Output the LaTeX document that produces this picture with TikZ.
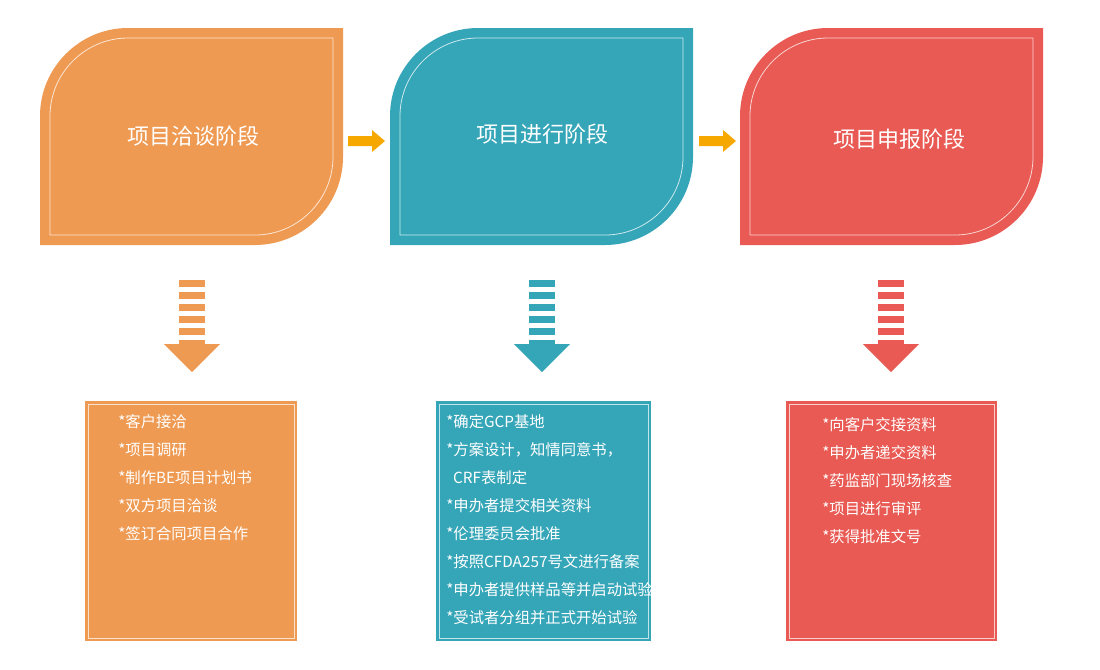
\documentclass[tikz,border=0pt]{standalone}
\usepackage{fontspec}
\setmainfont{Noto Sans CJK SC}
\definecolor{cor}{HTML}{EF9A52}
\definecolor{cte}{HTML}{35A5B8}
\definecolor{cre}{HTML}{E85A53}
\definecolor{cyl}{HTML}{F7A800}
\newcommand\leafpath[5]{(#1,#4) -- (#1,#2+#5) .. controls (#1,#2+0.45*#5) and (#1+0.45*#5,#2) .. (#1+#5,#2) -- (#3,#2) -- (#3,#4-#5) .. controls (#3,#4-0.45*#5) and (#3-0.45*#5,#4) .. (#3-#5,#4) -- cycle}
\newcommand\leaf[5]{%
  \fill[#5] \leafpath{#1}{#2}{#3}{#4}{88};
  \draw[white!75!#5, line width=0.6pt] \leafpath{#1+10}{#2+10}{#3-10}{#4-10}{78};}
\newcommand\dasharrow[3]{%
  \foreach \yy in {280,292,304,316,328}{\fill[#3] (#1-13,\yy) rectangle (#1+13,\yy+7);}
  \fill[#3] (#1-13,340) rectangle (#1+13,346);
  \fill[#3] (#1-28,344) -- (#1+28,344) -- (#1,372) -- cycle;}
\newcommand\yarrow[2]{\fill[cyl] (#1,136) -- (#1+24,136) -- (#1+24,130) -- (#1+37,141) -- (#1+24,152) -- (#1+24,146) -- (#1,146) -- cycle;}
\tikzset{title/.style={text=white,font=\fontsize{16.5pt}{18pt}\selectfont},
  item/.style={text=white,font=\fontsize{11.5pt}{21pt}\selectfont,align=left,anchor=north west,inner sep=0pt},
  box/.style={fill=#1}}
\begin{document}
\begin{tikzpicture}[x=0.75pt,y=-0.75pt]
\useasboundingbox (0,0) rectangle (1100,669);
\leaf{40}{28}{343}{245}{cor}
\leaf{390}{28}{693}{245}{cte}
\leaf{740}{28}{1043}{245}{cre}
\node[title] (t1) at (193,136) {项目洽谈阶段};
\node[title] (t2) at (542,134) {项目进行阶段};
\node[title] (t3) at (899,139) {项目申报阶段};
\yarrow{348}{cor}
\yarrow{699}{cte}
\dasharrow{192}{0}{cor}
\dasharrow{542}{0}{cte}
\dasharrow{891}{0}{cre}
\foreach \x/\w/\c in {85/297/cor,436/651/cte,786/997/cre}{
  \fill[\c] (\x,401) rectangle (\w,641);
  \draw[white!70!\c, line width=0.6pt] (\x+3,404) rectangle (\w-3,638);}
\node[item] (l1) at (118,414) {*客户接洽\\*项目调研\\*制作BE项目计划书\\*双方项目洽谈\\*签订合同项目合作};
\node[item] (l2) at (446,414) {*确定GCP基地\\*方案设计，知情同意书，\\\ \ CRF表制定\\*申办者提交相关资料\\*伦理委员会批准\\*按照CFDA257号文进行备案\\*申办者提供样品等并启动试验\\*受试者分组并正式开始试验};
\node[item] (l3) at (822,417) {*向客户交接资料\\*申办者递交资料\\*药监部门现场核查\\*项目进行审评\\*获得批准文号};
\end{tikzpicture}
\end{document}
